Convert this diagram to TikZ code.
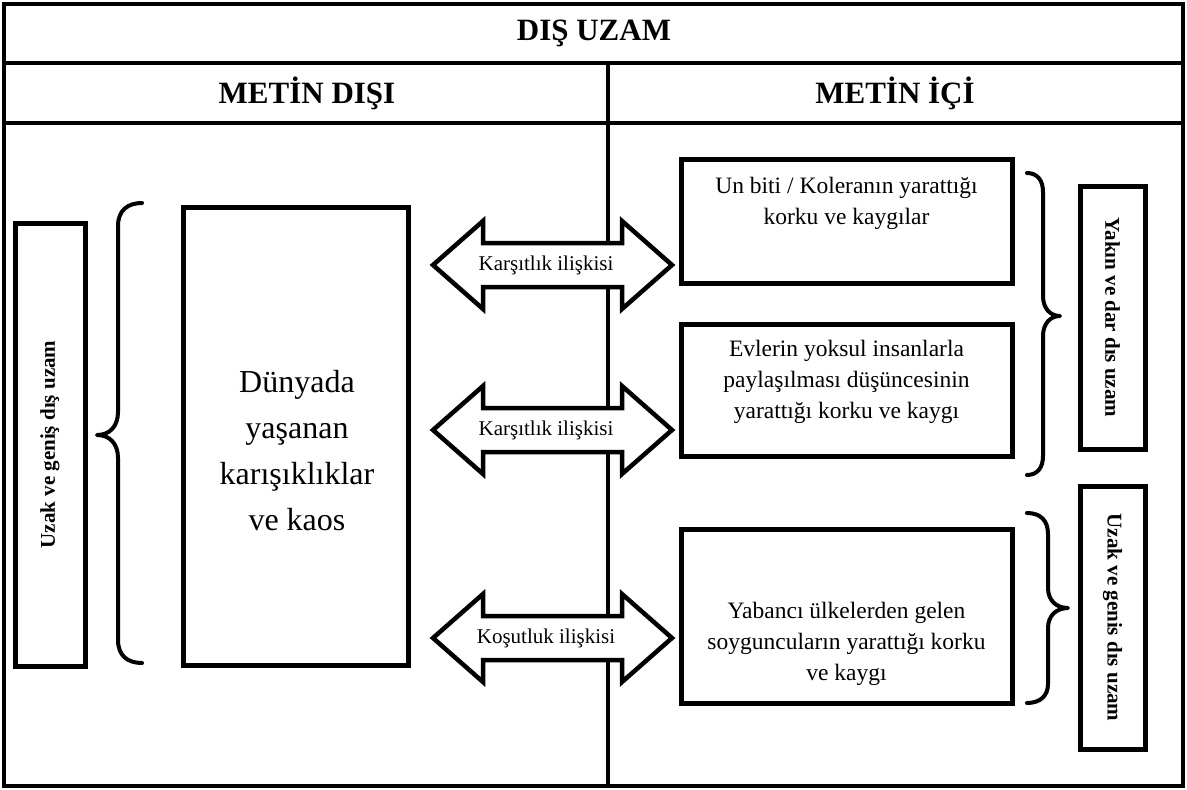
\documentclass[tikz,border=0pt]{standalone}
\usepackage{fontspec}
\setmainfont{Liberation Serif}
\tikzset{
  rule/.style={line width=4.5pt},
  box/.style={draw, line width=5pt, fill=white, inner sep=0pt},
  headtext/.style={font=\fontsize{31}{36}\selectfont\bfseries},
  boxtext/.style={align=center, font=\fontsize{23.5}{31}\selectfont},
  sidetext/.style={font=\fontsize{21}{25}\selectfont\bfseries},
  curly/.style={line width=4pt, line cap=round, line join=round},
  arrowline/.style={draw, fill=white, line width=4.5pt, line join=miter},
  reltext/.style={font=\fontsize{21}{25}\selectfont},
  relarrow/.pic={
    \path[arrowline] (-119.5,0) -- (-69.5,-44) -- (-69.5,-22) -- (69.5,-22)
      -- (69.5,-44) -- (119.5,0) -- (69.5,44) -- (69.5,22) -- (-69.5,22)
      -- (-69.5,44) -- cycle;
  }
}
\begin{document}
\begin{tikzpicture}[x=1pt,y=-1pt]
\useasboundingbox[fill=white] (0,0) rectangle (1187,790);

% outer table
\draw[rule] (4,4) rectangle (1183,786);
\draw[rule] (4,63) -- (1183,63);
\draw[rule] (4,123) -- (1183,123);
\draw[rule] (608,63) -- (608,786);

\node[headtext] (outer) at (594,33) {DIŞ UZAM};
\node[headtext] (outside) at (307,93) {METİN DIŞI};
\node[headtext] (inside) at (895,93) {METİN İÇİ};

% left column
\node[box, rotate=90, minimum width=443pt, minimum height=70pt, sidetext] (far) at (50,444.5) {Uzak ve geniş dış uzam};
\draw[curly] (142,203) .. controls (128,203) and (118,210) .. (118,226) -- (118,412)
  .. controls (118,426) and (110,435) .. (97,435)
  .. controls (110,435) and (118,444) .. (118,458) -- (118,640)
  .. controls (118,656) and (128,663) .. (142,663);
\node[box, minimum width=225pt, minimum height=458pt] (chaos) at (295.5,436) {};
\node[align=center, font=\fontsize{32}{46}\selectfont] (chaostext) at (297,451) {Dünyada\\yaşanan\\karışıklıklar\\ve kaos};

% relation arrows
\pic at (552.5,265) {relarrow};
\node[reltext] (rel1) at (546,265) {Karşıtlık ilişkisi};
\pic at (552.5,430) {relarrow};
\node[reltext] (rel2) at (546,430) {Karşıtlık ilişkisi};
\pic at (552.5,638) {relarrow};
\node[reltext] (rel3) at (546,638) {Koşutluk ilişkisi};

% right column
\node[box, minimum width=331pt, minimum height=124pt] (cholera) at (846.5,221) {};
\node[boxtext] (choleratext) at (846.5,203) {Un biti / Koleranın yarattığı\\korku ve kaygılar};
\node[box, minimum width=331pt, minimum height=132pt] (homes) at (846.5,390) {};
\node[boxtext] (homestext) at (846.5,382) {Evlerin yoksul insanlarla\\paylaşılması düşüncesinin\\yarattığı korku ve kaygı};
\node[box, minimum width=331pt, minimum height=174pt] (robbers) at (846.5,616) {};
\node[boxtext] (robberstext) at (846.5,644) {Yabancı ülkelerden gelen\\soyguncuların yarattığı korku\\ve kaygı};

\draw[curly] (1027,173) .. controls (1037,173) and (1043,180) .. (1043,192) -- (1043,296)
  .. controls (1043,308) and (1050,316) .. (1060,316)
  .. controls (1050,316) and (1043,324) .. (1043,336) -- (1043,456)
  .. controls (1043,468) and (1037,475) .. (1027,475);
\draw[curly] (1027,513) .. controls (1040,513) and (1048,520) .. (1048,534) -- (1048,588)
  .. controls (1048,600) and (1056,608) .. (1068,608)
  .. controls (1056,608) and (1048,616) .. (1048,628) -- (1048,684)
  .. controls (1048,696) and (1040,703) .. (1027,703);

\node[box, rotate=-90, minimum width=263pt, minimum height=65pt, sidetext] (near) at (1112.5,317.5) {Yakın ve dar dıs uzam};
\node[box, rotate=-90, minimum width=263pt, minimum height=65pt, sidetext] (wide) at (1112.5,617.5) {Uzak ve genis dıs uzam};
\end{tikzpicture}
\end{document}
